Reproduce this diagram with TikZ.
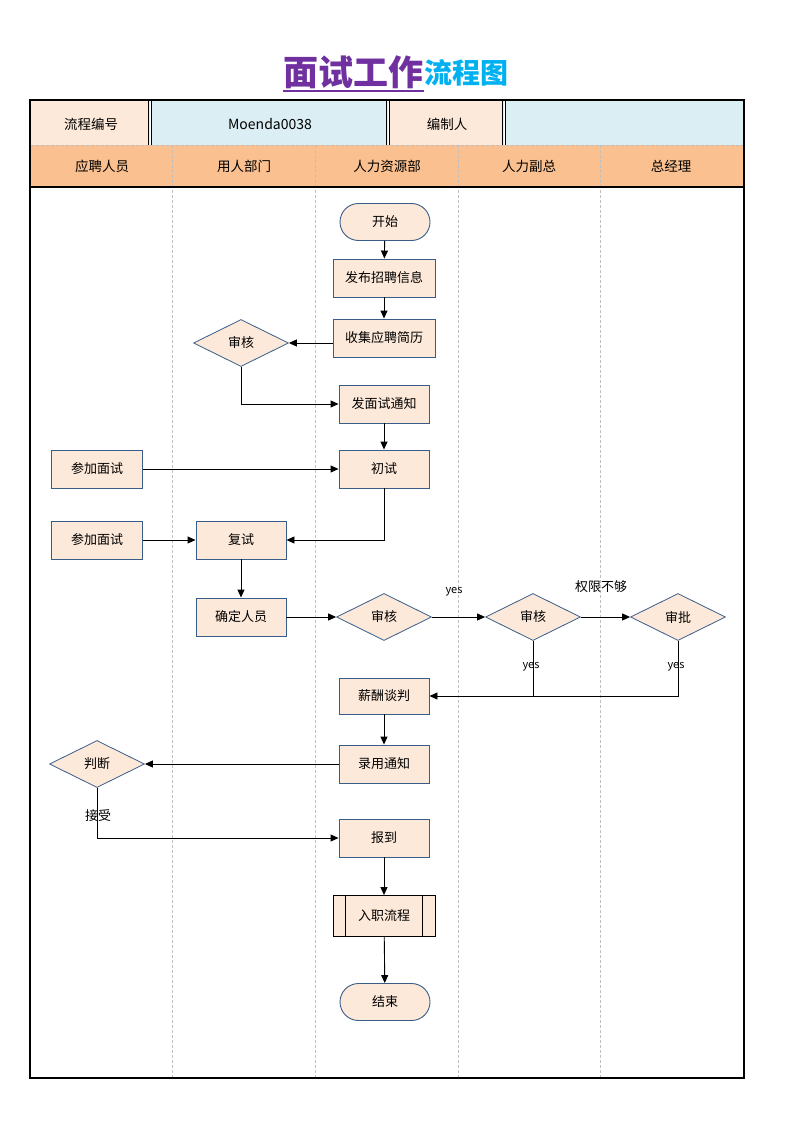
\documentclass[tikz,border=0pt]{standalone}
\usepackage{fontspec}
\setmainfont{Noto Sans CJK SC}
\newfontfamily\cjk{Noto Sans CJK SC}
\usetikzlibrary{shapes.geometric,arrows.meta}
\definecolor{peach}{HTML}{FDE9D9}
\definecolor{edgeblue}{HTML}{385D8A}
\definecolor{lblue}{HTML}{DAEEF3}
\definecolor{orangeh}{HTML}{FAC08F}
\definecolor{titlepurple}{HTML}{7030A0}
\definecolor{titleblue}{HTML}{00B0F0}
\definecolor{lanegray}{HTML}{BFBFBF}
\tikzset{
  box/.style={draw=edgeblue,fill=peach,line width=0.9pt,minimum width=90pt,minimum height=38pt,inner sep=0pt,font=\fontsize{13}{15}\selectfont},
  widebox/.style={box,minimum width=102pt},
  term/.style={box,rounded corners=18.5pt,minimum height=37pt},
  dec/.style={draw=edgeblue,fill=peach,line width=0.8pt,diamond,minimum width=95pt,minimum height=47pt,inner sep=0pt,font=\fontsize{13}{15}\selectfont},
  conn/.style={line width=0.9pt,-{Triangle[length=8pt,width=7pt]}},
  plain/.style={line width=0.9pt},
  lbl/.style={font=\fontsize{11}{13}\selectfont,inner sep=0pt},
  hdr/.style={font=\fontsize{13.5}{15}\selectfont,inner sep=0pt},
  lane/.style={draw=lanegray,dashed,line width=0.6pt,dash pattern=on 3pt off 2pt},
}
\begin{document}
\begin{tikzpicture}[x=1pt,y=-1pt]
\useasboundingbox (0,0) rectangle (794,1123);
% title
\node[inner sep=0pt,anchor=east,text=titlepurple,font=\fontsize{35}{37}\bfseries\selectfont] (t1) at (424,72) {面试工作};
\node[inner sep=0pt,anchor=west,text=titleblue,font=\fontsize{28}{30}\bfseries\selectfont] (t2) at (424,73) {流程图};
\draw[titlepurple,line width=2pt] (283,91) -- (424,91);
% header row 1
\fill[peach] (31,101) rectangle (150,145);
\fill[lblue] (152,101) rectangle (388,145);
\fill[peach] (390,101) rectangle (504,145);
\fill[lblue] (506,101) rectangle (743,145);
\foreach \x in {150,388,504}{
  \draw[line width=0.8pt] (\x-1.2,101) -- (\x-1.2,145);
  \draw[line width=0.8pt] (\x+1.2,101) -- (\x+1.2,145);
}
\node[hdr] (h1) at (91,124) {流程编号};
\node[hdr,font=\fontsize{14}{16}\selectfont] (h2) at (270,124) {Moenda0038};
\node[hdr] (h3) at (447,124) {编制人};
% header row 2
\fill[orangeh] (31,145) rectangle (743,187);
\draw[lanegray,line width=0.6pt,dash pattern=on 3pt off 2pt] (31,145) -- (743,145);
\node[hdr] (l1) at (102,166) {应聘人员};
\node[hdr] (l2) at (244,166) {用人部门};
\node[hdr] (l3) at (387,166) {人力资源部};
\node[hdr] (l4) at (529,166) {人力副总};
\node[hdr] (l5) at (671,166) {总经理};
\foreach \x in {172,315,458,600}{
  \draw[lane] (\x,145) -- (\x,1077);
}
\draw[line width=2pt] (31,187) -- (743,187);
\draw[line width=2.5pt] (30,100) rectangle (744,1078);
% nodes
\node[term] (start) at (385,222) {开始};
\node[widebox] (pub) at (384,278) {发布招聘信息};
\node[widebox] (col) at (384,338) {收集应聘简历};
\node[dec] (rev1) at (241,343) {审核};
\node[box] (notice) at (384,404) {发面试通知};
\node[box] (first) at (384,469) {初试};
\node[box,minimum width=91pt] (att1) at (97,469) {参加面试};
\node[box,minimum width=91pt] (att2) at (97,540) {参加面试};
\node[box] (second) at (241,540) {复试};
\node[box] (confirm) at (241,617) {确定人员};
\node[dec] (rev2) at (384,617) {审核};
\node[dec] (rev3) at (533,617) {审核};
\node[dec] (appr) at (678,617) {审批};
\node[box,minimum height=36pt] (salary) at (384,696) {薪酬谈判};
\node[box] (offer) at (384,764) {录用通知};
\node[dec] (judge) at (97,764) {判断};
\node[box] (report) at (384,838) {报到};
\node[box,draw=black,minimum width=102pt,minimum height=41pt] (onb) at (384,916) {入职流程};
\draw[line width=0.9pt] ([xshift=13pt]onb.north west) -- ([xshift=13pt]onb.south west);
\draw[line width=0.9pt] ([xshift=-13pt]onb.north east) -- ([xshift=-13pt]onb.south east);
\node[term] (end) at (385,1002) {结束};
% labels
\node[lbl] (y1) at (454,592) {yes};
\node[lbl,font=\fontsize{13}{15}\selectfont] (perm) at (601,587) {权限不够};
\node[lbl] (y2) at (531,667) {yes};
\node[lbl] (y3) at (676,667) {yes};
\node[lbl,font=\fontsize{13}{15}\selectfont] (acc) at (98,816) {接受};
% connectors
\draw[conn] (start) -- (pub);
\draw[conn] (pub) -- (col);
\draw[conn] (rev1.east -| col.west) -- (rev1.east);
\draw[conn] (rev1.south) |- (notice.west);
\draw[conn] (notice) -- (first);
\draw[conn] (att1) -- (first);
\draw[conn] (first.south) |- (second.east);
\draw[conn] (att2) -- (second);
\draw[conn] (second) -- (confirm);
\draw[conn] (confirm) -- (rev2);
\draw[conn] (rev2) -- (rev3);
\draw[conn] (rev3) -- (appr);
\draw[conn] (appr.south) |- (salary.east);
\draw[plain] (rev3.south) -- (rev3.south |- salary.east);
\draw[conn] (salary) -- (offer);
\draw[conn] (offer) -- (judge);
\draw[conn] (judge.south) |- (report.west);
\draw[conn] (report) -- (onb);
\draw[conn] (onb) -- (end);
\end{tikzpicture}
\end{document}
